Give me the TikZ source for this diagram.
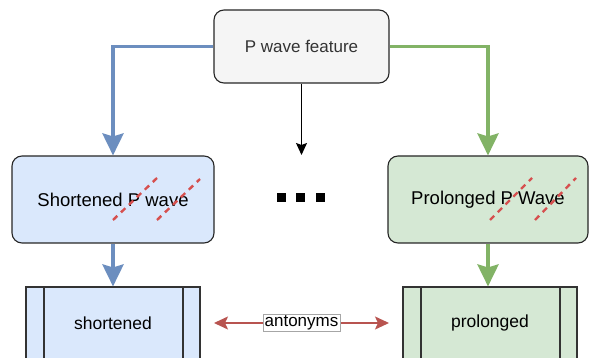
\documentclass[tikz,border=0pt]{standalone}
\usepackage{fontspec}
\setmainfont{Liberation Sans}
\usetikzlibrary{arrows.meta,positioning}
\definecolor{bluefill}{HTML}{DAE8FC}
\definecolor{bluestroke}{HTML}{6C8EBF}
\definecolor{greenfill}{HTML}{D5E8D4}
\definecolor{greenstroke}{HTML}{82B366}
\definecolor{grayfill}{HTML}{F5F5F5}
\definecolor{redstroke}{HTML}{B85450}
\definecolor{reddash}{HTML}{D6504F}
\definecolor{darktext}{HTML}{333333}
\tikzset{
  x=1pt,y=-1pt,
  roundbox/.style={draw=black!85,line width=1.1pt,rounded corners=10pt,inner sep=0pt},
  procbox/.style={draw=black!80,line width=1.1pt,inner sep=0pt},
  thickarrow/.style={line width=3.8pt,-{Stealth[length=22pt,width=21pt,inset=3pt]}},
  redarrow/.style={draw=redstroke,line width=1.6pt,{Stealth[length=14pt,width=13pt,inset=3pt]}-{Stealth[length=14pt,width=13pt,inset=3pt]}},
  crossdash/.style={draw=reddash,line width=2.4pt,dash pattern=on 6pt off 5pt},
  dotsq/.style={fill=black,minimum size=9pt,inner sep=0pt}
}
\begin{document}
\begin{tikzpicture}
\useasboundingbox (0,0) rectangle (589,358);
% top box
\node[roundbox,fill=grayfill,minimum width=175pt,minimum height=73pt,text=darktext,font=\fontsize{17}{20}\selectfont] (top) at (301.5,46.5) {P wave feature};
% middle boxes
\node[roundbox,fill=bluefill,minimum width=202pt,minimum height=87pt,font=\fontsize{18.5}{22}\selectfont] (short) at (113,199.5) {Shortened P wave};
\node[roundbox,fill=greenfill,minimum width=200pt,minimum height=87pt,font=\fontsize{18.5}{22}\selectfont] (prol) at (488,199.5) {Prolonged P Wave};
% red dashes
\draw[crossdash] (113,220) -- (157,178);
\draw[crossdash] (157,220) -- (200,179);
\draw[crossdash] (490,220) -- (532,178);
\draw[crossdash] (535,220) -- (576,178);
% bottom boxes
\node[procbox,fill=bluefill,minimum width=174pt,minimum height=72pt,font=\fontsize{17.5}{21}\selectfont] (shortw) at (113,323) {shortened};
\draw[black!80,line width=1.1pt] (44,287) -- (44,359) (183,287) -- (183,359);
\node[procbox,fill=greenfill,minimum width=174pt,minimum height=72pt,font=\fontsize{17.5}{21}\selectfont] (prolw) at (490,323) {prolonged};
\draw[black!80,line width=1.1pt] (421,287) -- (421,359) (560,287) -- (560,359);
% dots
\node[dotsq] (d1) at (281.5,197.5) {};
\node[dotsq] (d2) at (300.5,197.5) {};
\node[dotsq] (d3) at (320,197.5) {};
% connectors
\draw[thickarrow,bluestroke] (top.west) -| (short.north);
\draw[thickarrow,greenstroke] (top.east) -| (prol.north);
\coordinate (mid) at (301.5,155);
\draw[line width=1.3pt,-{Stealth[length=12pt,width=11pt,inset=2pt]}] (top.south) -- (mid);
\draw[thickarrow,bluestroke] (short.south) -- (shortw.north);
\draw[thickarrow,greenstroke] (prol.south) -- (prol.south |- prolw.north);
\coordinate (al) at (214,323);
\coordinate (ar) at (389,323);
\draw[redarrow] (al) -- (ar) node[midway,fill=white,draw=black!35,line width=0.6pt,inner sep=1.5pt,font=\fontsize{17}{20}\selectfont] (lab) {antonyms};
\end{tikzpicture}
\end{document}
